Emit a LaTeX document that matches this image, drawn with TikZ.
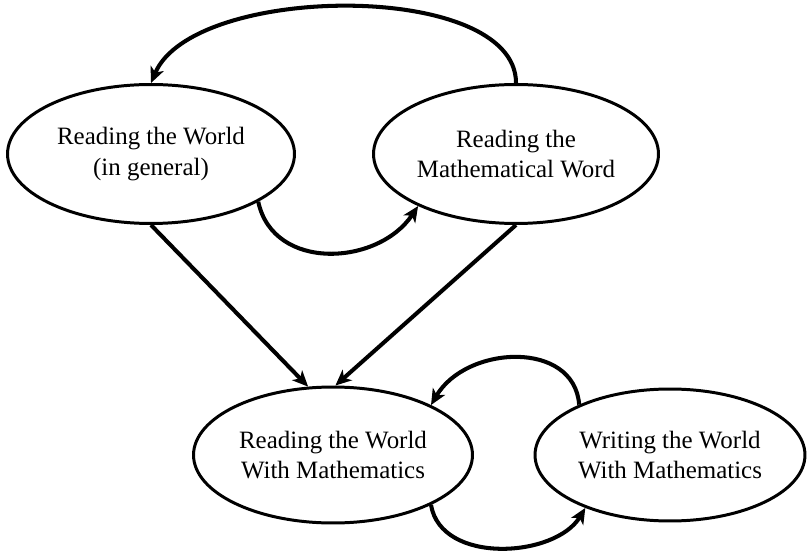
\documentclass[tikz,border=0pt]{standalone}
\usepackage{fontspec}
\setmainfont{Liberation Serif}
\usetikzlibrary{shapes,arrows.meta,positioning}

\begin{document}
\begin{tikzpicture}[
    x=0.02cm, y=-0.02cm,
    bubble/.style={ellipse, draw, line width=1.7pt, inner sep=0pt, align=center,
        font=\fontsize{14.2}{17.6}\selectfont},
    arrow/.style={->, >={Stealth[length=9pt,width=8pt,inset=2.5pt]}, line width=2.3pt}
]
    \useasboundingbox (0,0) rectangle (807,553);

    \node[bubble, minimum width=5.74cm, minimum height=2.78cm] (rwg) at (151,154) {Reading the World\\(in general)};
    \node[bubble, minimum width=5.70cm, minimum height=2.78cm] (rmw) at (516,154) {Reading the\\Mathematical Word};
    \node[bubble, minimum width=5.58cm, minimum height=2.72cm] (rwm) at (333,455) {Reading the World\\With Mathematics};
    \node[bubble, minimum width=5.40cm, minimum height=2.64cm] (wwm) at (670,455) {Writing the World\\With Mathematics};

    \draw[arrow] (rwg.south) -- (rwm.110);
    \draw[arrow] (rmw.south) -- (rwm.88);
    \draw[arrow] (rmw.north) .. controls +(0,-103) and +(42,-100) .. (rwg.north);
    \draw[arrow] (rwg.-24) .. controls +(15,70) and +(-40,60) .. (rmw.208);
    \draw[arrow] (wwm.151) .. controls +(-5,-65) and +(35,-60) .. (rwm.27);
    \draw[arrow] (rwm.-27) .. controls +(10,60) and +(-30,50) .. (wwm.-148);
\end{tikzpicture}
\end{document}
